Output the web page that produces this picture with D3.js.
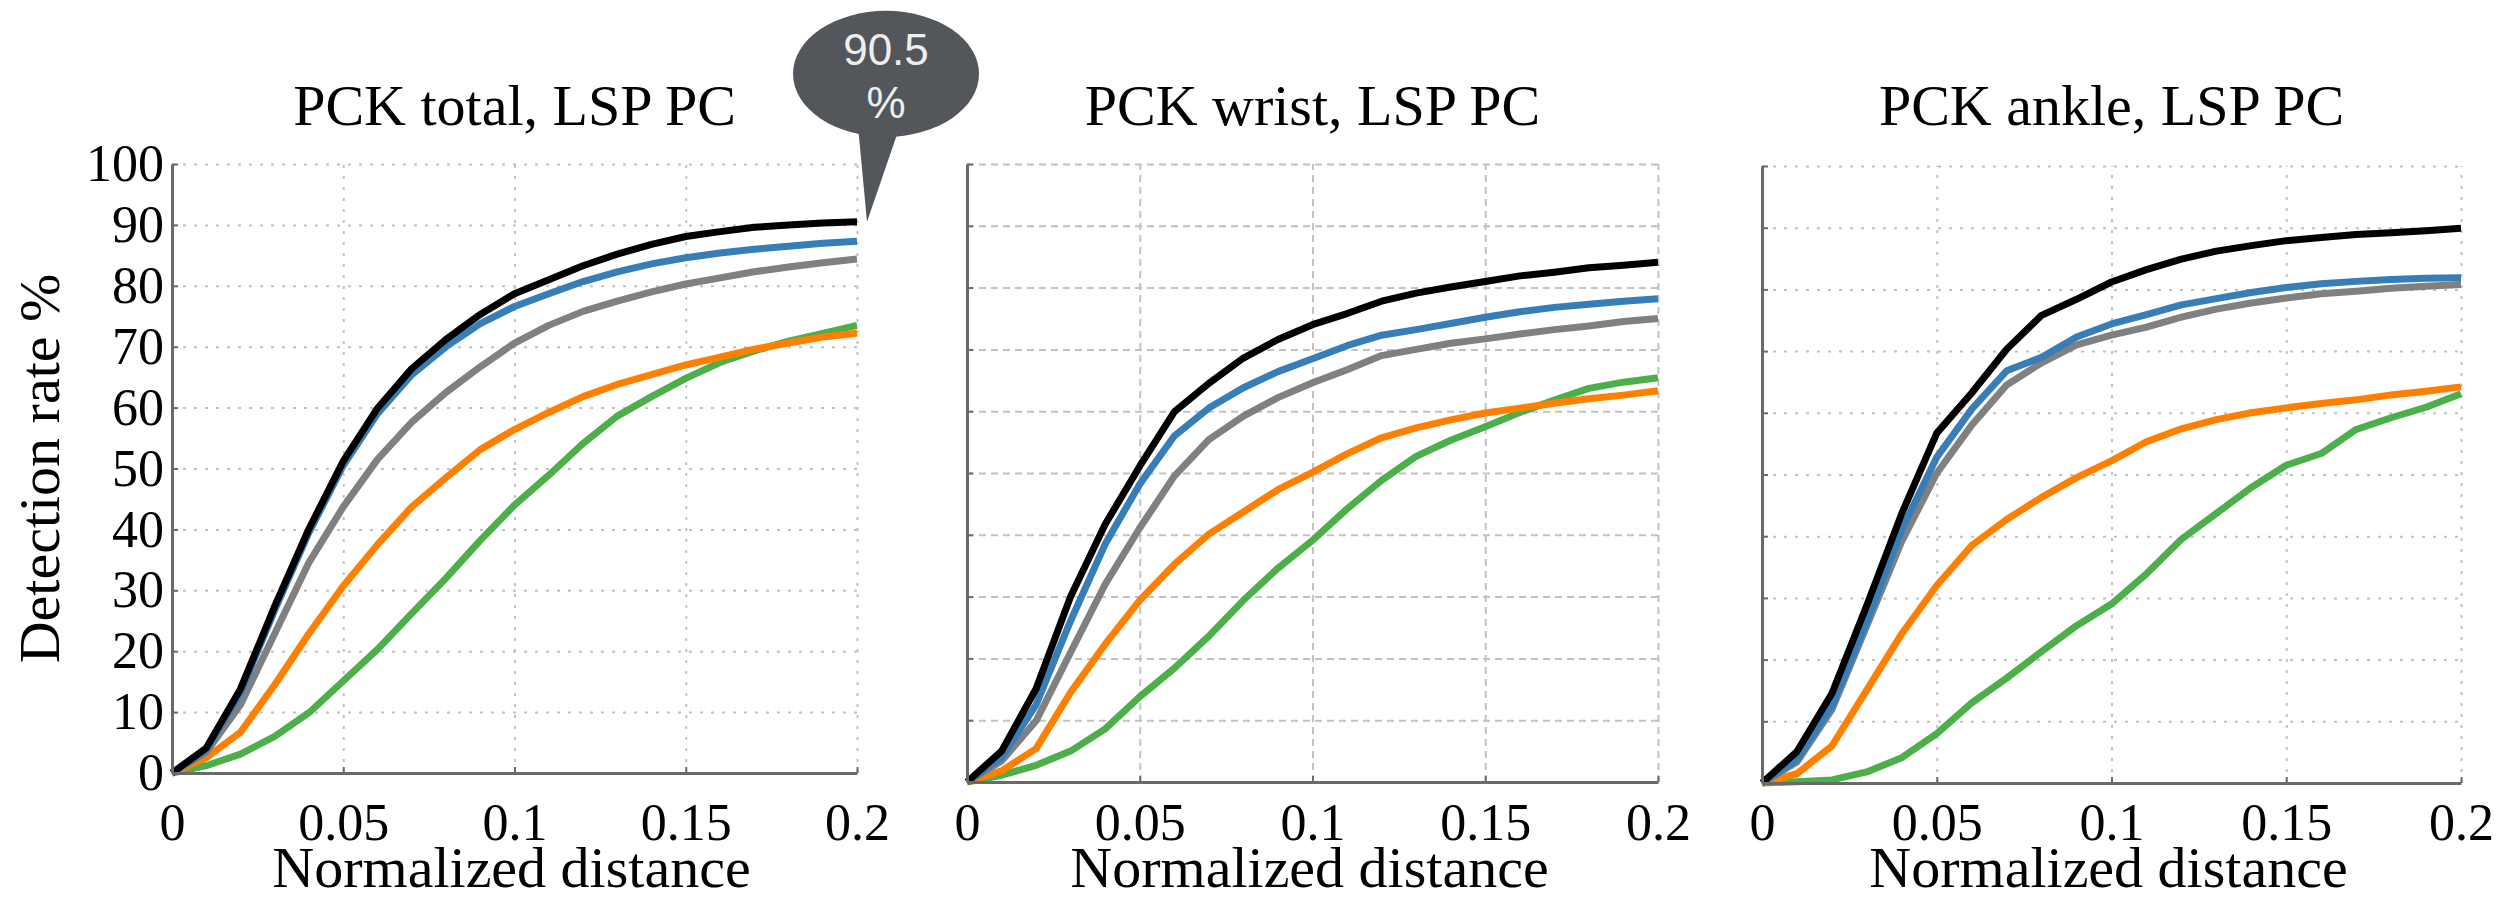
<!DOCTYPE html>
<html>
<head>
<meta charset="utf-8">
<script src="https://cdn.jsdelivr.net/npm/d3@7"></script>
<style>
  html, body { margin: 0; padding: 0; background: #fff; }
  svg { display: block; }
  .serif { font-family: "Liberation Serif", Tinos, "Times New Roman", "DejaVu Serif", serif; }
  .sans { font-family: "Liberation Sans", Arimo, Arial, sans-serif; }
</style>
</head>
<body>
<div id="chart"></div>
<script>
// x positions of the samples (normalized distance)
var distance = [0, 0.01, 0.02, 0.03, 0.04, 0.05, 0.06, 0.07, 0.08, 0.09, 0.1,
                0.11, 0.12, 0.13, 0.14, 0.15, 0.16, 0.17, 0.18, 0.19, 0.2];

var panelTitles = ["PCK total, LSP PC", "PCK wrist, LSP PC", "PCK ankle, LSP PC"];
var xTicks = [0, 0.05, 0.1, 0.15, 0.2];
var yTicks = [0, 10, 20, 30, 40, 50, 60, 70, 80, 90, 100];

// PCK total
var totalBlack  = [0, 4.1, 13.8, 27.4, 40.1, 51.2, 59.9, 66.4, 71.2, 75.3, 78.7, 81.0, 83.3, 85.2, 86.8, 88.1, 88.9, 89.6, 90.0, 90.3, 90.5];
var totalBlue   = [0, 3.8, 13.2, 26.8, 39.5, 50.5, 59.0, 65.4, 70.0, 73.8, 76.6, 78.7, 80.7, 82.3, 83.6, 84.6, 85.4, 86.0, 86.5, 87.0, 87.3];
var totalGrey   = [0, 3.4, 11.2, 22.9, 34.6, 43.7, 51.5, 57.6, 62.5, 66.7, 70.6, 73.5, 75.8, 77.5, 79.0, 80.3, 81.3, 82.3, 83.1, 83.8, 84.4];
var totalOrange = [0, 2.5, 6.7, 14.5, 22.9, 30.7, 37.5, 43.7, 48.5, 53.1, 56.4, 59.2, 61.8, 63.8, 65.4, 67.0, 68.3, 69.6, 70.6, 71.6, 72.2];
var totalGreen  = [0, 1.2, 3.1, 6.0, 9.9, 15.1, 20.3, 26.2, 32.0, 38.2, 44.0, 48.9, 54.1, 58.6, 61.8, 64.8, 67.4, 69.3, 70.9, 72.2, 73.5];

// PCK wrist
var wristBlack  = [0, 5.0, 15.1, 30.0, 41.7, 51.1, 59.9, 64.5, 68.6, 71.6, 74.0, 75.8, 77.8, 79.1, 80.1, 81.0, 81.9, 82.5, 83.2, 83.6, 84.1];
var wristBlue   = [0, 4.0, 12.5, 26.1, 38.5, 48.2, 56.0, 60.5, 63.8, 66.4, 68.5, 70.6, 72.3, 73.2, 74.2, 75.2, 76.1, 76.8, 77.3, 77.8, 78.2];
var wristGrey   = [0, 3.4, 9.9, 21.0, 32.0, 41.1, 49.5, 55.4, 59.2, 62.2, 64.6, 66.7, 69.0, 70.0, 71.0, 71.7, 72.5, 73.2, 73.8, 74.5, 75.0];
var wristOrange = [0, 1.8, 5.4, 14.5, 22.3, 29.4, 35.2, 40.1, 43.7, 47.3, 50.1, 53.1, 55.7, 57.3, 58.6, 59.7, 60.5, 61.3, 62.0, 62.6, 63.3];
var wristGreen  = [0, 1.1, 2.7, 5.0, 8.6, 13.8, 18.4, 23.6, 29.4, 34.6, 39.1, 44.2, 48.8, 52.7, 55.3, 57.5, 59.8, 61.8, 63.7, 64.7, 65.4];

// PCK ankle
var ankleBlack  = [0, 5.1, 14.5, 28.8, 43.7, 56.7, 63.2, 70.3, 75.8, 78.4, 81.2, 83.2, 84.9, 86.2, 87.1, 87.9, 88.4, 88.9, 89.2, 89.5, 89.9];
var ankleBlue   = [0, 3.8, 12.5, 26.2, 41.1, 52.8, 60.6, 66.8, 69.0, 72.3, 74.4, 75.9, 77.5, 78.5, 79.5, 80.3, 80.9, 81.3, 81.6, 81.8, 81.9];
var ankleGrey   = [0, 3.4, 11.9, 25.5, 39.2, 50.2, 58.0, 64.5, 68.1, 71.0, 72.6, 73.9, 75.5, 76.8, 77.8, 78.6, 79.3, 79.7, 80.2, 80.5, 80.8];
var ankleOrange = [0, 1.5, 6.0, 15.1, 24.2, 32.0, 38.5, 42.7, 46.3, 49.5, 52.2, 55.3, 57.4, 58.9, 60.0, 60.8, 61.5, 62.1, 62.9, 63.5, 64.2];
var ankleGreen  = [0, 0.2, 0.5, 1.8, 4.1, 8.0, 13.0, 17.0, 21.3, 25.5, 29.0, 33.9, 39.5, 43.7, 47.9, 51.5, 53.4, 57.3, 59.2, 60.9, 63.1];

// colours, drawn in this order (black on top)
var lineColors = ["#4daf4a", "#ff7f00", "#808080", "#377eb8", "#000000"];
var panelSeries = [
    [totalGreen, totalOrange, totalGrey, totalBlue, totalBlack],
    [wristGreen, wristOrange, wristGrey, wristBlue, wristBlack],
    [ankleGreen, ankleOrange, ankleGrey, ankleBlue, ankleBlack]
];

// plot boxes in pixels
var boxes = [
    {left: 172, right: 857, top: 164, bottom: 773, dash: "3,8"},
    {left: 967, right: 1658, top: 164, bottom: 782, dash: "7,5"},
    {left: 1762, right: 2461, top: 166, bottom: 783, dash: "3,8"}
];

var width = 2514, height = 901;
var tickSize = 52;

var svg = d3.select("#chart").append("svg")
    .attr("width", width)
    .attr("height", height);

boxes.forEach(function (b, p) {
    var x = d3.scaleLinear().domain([0, 0.2]).range([b.left, b.right]);
    var y = d3.scaleLinear().domain([0, 100]).range([b.bottom, b.top]);

    var g = svg.append("g");

    // grid
    g.append("g")
        .attr("transform", "translate(0," + b.bottom + ")")
        .call(d3.axisBottom(x).tickValues(xTicks).tickSize(-(b.bottom - b.top)).tickFormat(""))
        .call(s => s.select(".domain").remove())
        .selectAll("line")
        .attr("stroke", "#c2c2c2").attr("stroke-width", 2).attr("stroke-dasharray", b.dash);
    g.append("g")
        .attr("transform", "translate(" + b.left + ",0)")
        .call(d3.axisLeft(y).tickValues(yTicks).tickSize(-(b.right - b.left)).tickFormat(""))
        .call(s => s.select(".domain").remove())
        .selectAll("line")
        .attr("stroke", "#c2c2c2").attr("stroke-width", 2).attr("stroke-dasharray", b.dash);

    // curves
    var line = d3.line()
        .x(function (d, i) { return x(distance[i]); })
        .y(function (d) { return y(d); });

    g.selectAll("path.curve")
        .data(panelSeries[p])
        .enter()
        .append("path")
        .attr("class", "curve")
        .attr("d", line)
        .attr("fill", "none")
        .attr("stroke", function (d, i) { return lineColors[i]; })
        .attr("stroke-width", 7)
        .attr("stroke-linejoin", "round");

    // axes
    var xAxis = g.append("g")
        .attr("transform", "translate(0," + b.bottom + ")")
        .call(d3.axisBottom(x).tickValues(xTicks).tickSize(-6).tickSizeOuter(0)
            .tickPadding(840 - b.bottom - 0.71 * tickSize)
            .tickFormat(function (d) { return String(d); }));
    var yAxis = g.append("g")
        .attr("transform", "translate(" + b.left + ",0)")
        .call(d3.axisLeft(y).tickValues(yTicks).tickSize(-6).tickSizeOuter(0).tickPadding(8)
            .tickFormat(p === 0 ? function (d) { return d; } : function () { return ""; }));

    [xAxis, yAxis].forEach(function (a) {
        a.attr("font-family", null).attr("font-size", null);
        a.select(".domain").attr("stroke", "#6a6a6a").attr("stroke-width", 3);
        a.selectAll(".tick line").attr("stroke", "#6a6a6a").attr("stroke-width", 2);
        a.selectAll("text")
            .attr("class", "serif")
            .attr("fill", "#000")
            .style("font-size", tickSize + "px");
    });

    // title and x label
    g.append("text")
        .attr("class", "serif")
        .attr("x", (b.left + b.right) / 2)
        .attr("y", 125)
        .attr("text-anchor", "middle")
        .style("font-size", "58px")
        .text(panelTitles[p]);

    g.append("text")
        .attr("class", "serif")
        .attr("x", (b.left + b.right) / 2 - 3)
        .attr("y", 887)
        .attr("text-anchor", "middle")
        .style("font-size", "58px")
        .text("Normalized distance");

    if (p === 0) {
        g.append("text")
            .attr("class", "serif")
            .attr("transform", "translate(59," + ((b.top + b.bottom) / 2) + ") rotate(-90)")
            .attr("text-anchor", "middle")
            .style("font-size", "58px")
            .text("Detection rate %");

        // callout on the end of the black curve
        var last = totalBlack[totalBlack.length - 1];
        var tipX = x(distance[distance.length - 1]) + 10;
        var tipY = y(last);
        var cx = tipX + 19, cy = tipY - 148;
        var bubble = svg.append("g").attr("fill", "#53575c");
        bubble.append("path")
            .attr("d", "M" + (tipX - 9) + "," + (tipY - 96) + "L" + tipX + "," + tipY + "L" + (tipX + 33) + "," + (tipY - 96) + "Z");
        bubble.append("ellipse")
            .attr("cx", cx).attr("cy", cy)
            .attr("rx", 93).attr("ry", 63);
        bubble.append("text")
            .attr("class", "sans")
            .attr("x", cx).attr("y", cy - 9)
            .attr("text-anchor", "middle")
            .attr("fill", "#eeeeee")
            .style("font-size", "44px")
            .text(last.toFixed(1));
        bubble.append("text")
            .attr("class", "sans")
            .attr("x", cx).attr("y", cy + 44)
            .attr("text-anchor", "middle")
            .attr("fill", "#eeeeee")
            .style("font-size", "44px")
            .text("%");
    }
});
</script>
</body>
</html>
